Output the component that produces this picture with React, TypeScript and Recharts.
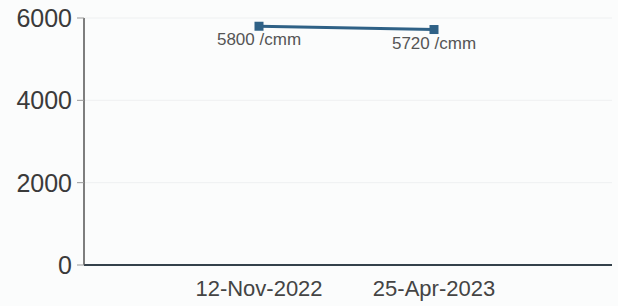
import React from "react";
import { LineChart, Line, XAxis, YAxis, CartesianGrid, LabelList } from "recharts";

const dates = ["12-Nov-2022", "25-Apr-2023"];
const counts = [5800, 5720];
const yTicks = [0, 2000, 4000, 6000];

const data = dates.map((d, i) => ({ date: d, value: counts[i] }));

const SquareDot = (props: any) => {
  const { cx, cy } = props;
  if (cx == null || cy == null) return null;
  return <rect x={cx - 4.5} y={cy - 4.5} width={9} height={9} fill="#2f6186" />;
};

export default function App() {
  return (
    <div style={{ position: "absolute", left: 0, top: 0, width: 618, height: 306, background: "#fbfcfc" }}>
      <LineChart width={618} height={306} data={data} margin={{ top: 18, right: 6, bottom: 0, left: 0 }}>
        <CartesianGrid vertical={false} stroke="#eef0f1" strokeWidth={1} />
        <XAxis
          dataKey="date"
          type="category"
          padding={{ left: 175, right: 178 }}
          axisLine={{ stroke: "#34414b", strokeWidth: 2 }}
          tickLine={false}
          tick={{ fill: "#444", fontSize: 22, fontFamily: "Liberation Sans, Arial, sans-serif" }}
          tickMargin={9}
          height={41}
        />
        <YAxis
          domain={[0, 6000]}
          ticks={yTicks}
          width={84}
          interval={0}
          axisLine={{ stroke: "#555", strokeWidth: 1.5 }}
          tickLine={{ stroke: "#999" }}
          tickSize={7}
          tickMargin={5}
          tick={{ fill: "#3a3a3a", fontSize: 25, fontFamily: "Liberation Sans, Arial, sans-serif" }}
        />
        <Line
          type="linear"
          dataKey="value"
          stroke="#2f6186"
          strokeWidth={3}
          dot={<SquareDot />}
          isAnimationActive={false}
        >
          <LabelList
            dataKey="value"
            position="bottom"
            offset={7}
            formatter={(v: any) => `${v} /cmm`}
            style={{ fill: "#555", fontSize: 17, fontFamily: "Liberation Sans, Arial, sans-serif" }}
          />
        </Line>
      </LineChart>
    </div>
  );
}
